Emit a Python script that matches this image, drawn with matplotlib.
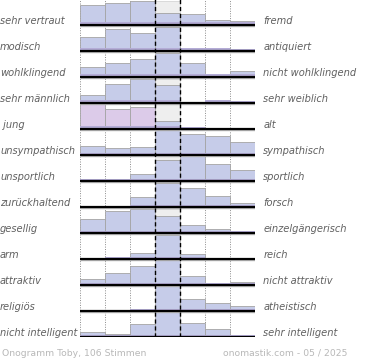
import numpy as np
import matplotlib
matplotlib.use('Agg')
import matplotlib.pyplot as plt

links = ['sehr vertraut', 'modisch', 'wohlklingend', 'sehr männlich', ' jung',
         'unsympathisch', 'unsportlich', 'zurückhaltend', 'gesellig', 'arm',
         'attraktiv', 'religiös', 'nicht intelligent']
rechts = ['fremd', 'antiquiert', 'nicht wohlklingend', 'sehr weiblich', 'alt',
          'sympathisch', 'sportlich', 'forsch', 'einzelgängerisch', 'reich',
          'nicht attraktiv', 'atheistisch', 'sehr intelligent']

# Anteil je Stufe (1..7), Maximum = 26
werte = [
    [20.0, 21.7, 24.0, 12.3, 11.0, 5.3, 4.0],
    [14.3, 21.7, 17.7, 24.3, 3.3, 3.3, 2.0],
    [10.3, 14.3, 17.7, 24.0, 14.0, 3.0, 6.3],
    [8.5, 19.3, 24.3, 17.7, 1.0, 3.3, 2.0],
    [24.7, 19.7, 22.3, 8.3, 2.3, 0.0, 0.0],
    [9.3, 6.7, 8.3, 25.0, 21.0, 19.3, 13.3],
    [2.3, 2.3, 7.3, 21.0, 25.5, 16.7, 11.0],
    [0.0, 0.0, 10.3, 24.3, 19.3, 11.0, 4.3],
    [14.3, 22.3, 23.7, 17.0, 8.3, 4.0, 2.3],
    [1.0, 2.3, 6.3, 24.0, 5.3, 0.0, 0.0],
    [5.7, 12.3, 19.3, 25.0, 9.3, 2.3, 3.3],
    [0.0, 1.0, 2.3, 25.0, 11.7, 8.3, 5.0],
    [5.3, 3.3, 12.7, 25.0, 13.7, 7.7, 2.3],
]
rosa = [4]

titel = 'Onogramm Toby, 106 Stimmen'
quelle = 'onomastik.com - 05 / 2025'

fig = plt.figure(figsize=(3.7, 3.6), dpi=100)
ax = fig.add_axes([80/370, 23/360, 175/370, 338/360])
ax.set_xlim(0, 7)
ax.set_ylim(0, 13)
ax.axis('off')

n = len(links)
x = np.arange(7) + 0.5
for i in range(n):
    base = n - 1 - i
    h = np.array(werte[i]) / 26.
    farbe = '#dccbe9' if i in rosa else '#c6cce9'
    # grauer Block in der Mitte bis zum Maximum
    if h.max() > h[3]:
        ax.bar(3.5, h.max() - h[3], width=1, bottom=base + h[3],
               color='#eeeeee', edgecolor='#d5d5d5', lw=0.6, zorder=1)
    for k in range(7):
        if h[k] <= 0:
            continue
        c = farbe if not (i in rosa and k >= 3) else '#c6cce9'
        ax.bar(x[k], h[k], width=1, bottom=base, color=c,
               edgecolor='#a4a4a4', lw=0.6, zorder=2)
        ax.bar(x[k], min(h[k], 2.5/26), width=0.97, bottom=base,
               color='#b4acd6', lw=0, zorder=3)
    ax.hlines(base - 1.3/26, 0, 7, color='#b5b5b5', lw=1.0, zorder=4)
    ax.hlines(base, 0, 7, color='black', lw=1.6, zorder=5)
    ax.text(-3.2, base + 1/26, links[i], fontsize=7.1, style='italic',
            color='#606060', va='baseline', ha='left')
    ax.text(7.33, base + 1/26, rechts[i], fontsize=7.1, style='italic',
            color='#606060', va='baseline', ha='left')

for xv in [0, 1, 2, 5, 6, 7]:
    ax.vlines(xv, 0, 13, color='#8a8a8a', lw=0.7, linestyles=(0, (1, 1.5)), zorder=0)
for xv in [3, 4]:
    ax.vlines(xv, 0, 13, color='black', lw=1.0, linestyles=(0, (3, 2)), zorder=6)

fig.text(2/370, 1 - 353/360, titel, fontsize=6.7, color='#b8b8b8', va='center', ha='left')
fig.text(347/370, 1 - 353/360, quelle, fontsize=6.7, color='#b8b8b8', va='center', ha='right')

fig.savefig('out.png', dpi=100)
